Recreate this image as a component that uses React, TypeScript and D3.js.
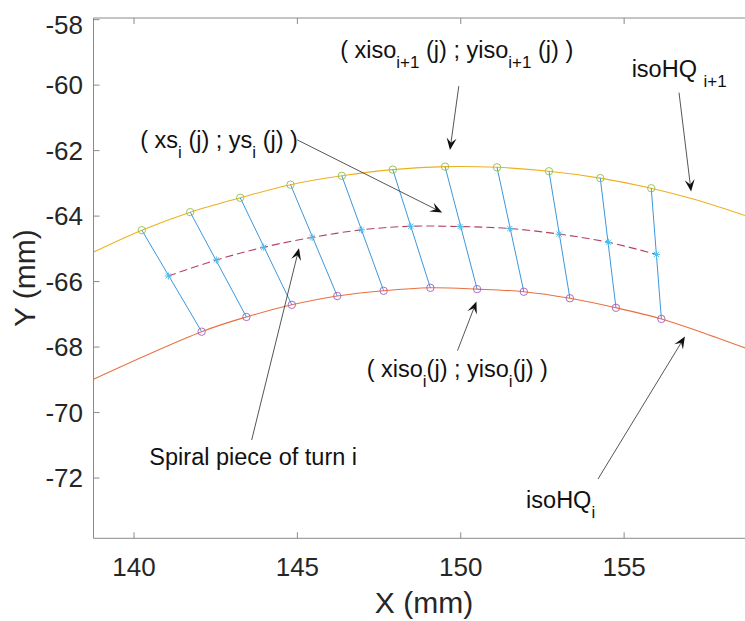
import { useEffect, useRef } from 'react';
import * as d3 from 'd3';

// points on isoHQ i+1 (green circles)
const xIsoNext = [140.24, 141.72, 143.25, 144.79, 146.36, 147.92, 149.52, 151.11, 152.7, 154.27, 155.83];
const yIsoNext = [-64.43, -63.88, -63.44, -63.04, -62.77, -62.58, -62.49, -62.51, -62.63, -62.84, -63.15];

// points on isoHQ i (purple circles)
const xIso = [142.07, 143.44, 144.83, 146.22, 147.64, 149.07, 150.5, 151.93, 153.34, 154.75, 156.14];
const yIso = [-67.53, -67.08, -66.71, -66.44, -66.28, -66.19, -66.23, -66.31, -66.51, -66.8, -67.14];

// spiral points (stars)
const xSpiral = [141.05, 142.52, 143.97, 145.45, 146.96, 148.47, 149.98, 151.5, 153.01, 154.52, 155.99];
const ySpiral = [-65.83, -65.34, -64.95, -64.65, -64.42, -64.31, -64.32, -64.38, -64.55, -64.8, -65.17];

// curve parts beyond the markers
const nextHeadX = [138.76];
const nextHeadY = [-65.1];
const nextTailX = [157.22, 158.99];
const nextTailY = [-63.51, -64.08];
const isoHeadX = [138.76];
const isoHeadY = [-68.98];
const isoTailX = [157.32, 158.99];
const isoTailY = [-67.53, -68.13];

const xTicks = [140, 145, 150, 155];
const yTicks = [-58, -60, -62, -64, -66, -68, -70, -72];

// annotations: text parts [text, isSubscript], text anchor, arrow start and tip (data units)
const notes = [
  { parts: [['( xiso', 0], ['i+1', 1], [' (j) ; yiso', 0], ['i+1', 1], [' (j) )', 0]], at: [146.31, -59.17], from: [149.94, -60.03], to: [149.67, -61.98] },
  { parts: [['isoHQ ', 0], ['i+1', 1]], at: [155.23, -59.74], from: [156.68, -60.23], to: [157.05, -63.25] },
  { parts: [['( xs', 0], ['i', 1], [' (j) ; ys', 0], ['i', 1], [' (j) )', 0]], at: [140.19, -61.92], from: [144.99, -61.67], to: [149.43, -63.89] },
  { parts: [['( xiso', 0], ['i', 1], ['(j) ; yiso', 0], ['i', 1], ['(j) )', 0]], at: [147.12, -68.91], from: [149.9, -68.11], to: [150.48, -66.61] },
  { parts: [['Spiral piece of turn i', 0]], at: [140.47, -71.6], from: [143.6, -70.84], to: [145.05, -64.98] },
  { parts: [['isoHQ', 0], ['i', 1]], at: [152.0, -72.91], from: [154.2, -72.03], to: [156.86, -67.68] },
];

const W = 745;
const H = 621;
const font = '"Liberation Sans", Arial, sans-serif';

const App = () => {
  const svgRef = useRef(null);

  useEffect(() => {
    const svg = d3.select(svgRef.current);
    svg.selectAll('*').remove();

    const left = 93.5, right = 754.5, top = 18, bottom = 538.3;
    const x = d3.scaleLinear().domain([138.76, 158.99]).range([left, right]);
    const y = d3.scaleLinear().domain([-73.84, -57.95]).range([bottom, top]);

    svg.append('rect').attr('width', W).attr('height', H).attr('fill', 'white');

    svg.append('clipPath').attr('id', 'plot-clip')
      .append('rect').attr('x', left).attr('y', top).attr('width', right - left).attr('height', bottom - top);

    const plot = svg.append('g').attr('clip-path', 'url(#plot-clip)');

    const zip = (xs, ys) => xs.map((v, i) => [v, ys[i]]);
    const line = d3.line().x((d) => x(d[0])).y((d) => y(d[1])).curve(d3.curveCatmullRom);

    const upper = zip([...nextHeadX, ...xIsoNext, ...nextTailX], [...nextHeadY, ...yIsoNext, ...nextTailY]);
    const lower = zip([...isoHeadX, ...xIso, ...isoTailX], [...isoHeadY, ...yIso, ...isoTailY]);

    plot.append('path').attr('d', line(upper)).attr('fill', 'none').attr('stroke', '#EDB120').attr('stroke-width', 1.1);
    plot.append('path').attr('d', line(lower)).attr('fill', 'none').attr('stroke', '#E8703F').attr('stroke-width', 1.1);

    plot.append('path').attr('d', line(zip(xSpiral, ySpiral))).attr('fill', 'none')
      .attr('stroke', '#B8405E').attr('stroke-width', 1.1).attr('stroke-dasharray', '8,4');

    // connecting segments
    plot.selectAll('line.seg').data(xIsoNext).enter().append('line')
      .attr('x1', (d) => x(d)).attr('y1', (d, i) => y(yIsoNext[i]))
      .attr('x2', (d, i) => x(xIso[i])).attr('y2', (d, i) => y(yIso[i]))
      .attr('stroke', '#3C97DC').attr('stroke-width', 1);

    plot.selectAll('circle.up').data(xIsoNext).enter().append('circle')
      .attr('cx', (d) => x(d)).attr('cy', (d, i) => y(yIsoNext[i])).attr('r', 3.7)
      .attr('fill', 'none').attr('stroke', '#8DBF4C').attr('stroke-width', 0.9);

    plot.selectAll('circle.lo').data(xIso).enter().append('circle')
      .attr('cx', (d) => x(d)).attr('cy', (d, i) => y(yIso[i])).attr('r', 3.7)
      .attr('fill', 'none').attr('stroke', '#A55BBE').attr('stroke-width', 0.9);

    const s = 3.6, t = 2.6;
    const star = `M${-s},0L${s},0M0,${-s}L0,${s}M${-t},${-t}L${t},${t}M${-t},${t}L${t},${-t}`;
    plot.selectAll('path.star').data(xSpiral).enter().append('path')
      .attr('d', star)
      .attr('transform', (d, i) => `translate(${x(d)},${y(ySpiral[i])})`)
      .attr('stroke', '#4DBEEE').attr('stroke-width', 1).attr('fill', 'none');

    // axes box and ticks
    const axisColor = '#8a8a8a';
    const frame = svg.append('g').attr('stroke', axisColor).attr('stroke-width', 1).attr('fill', 'none');
    frame.append('line').attr('x1', left).attr('x2', right).attr('y1', top).attr('y2', top);
    frame.append('line').attr('x1', left).attr('x2', right).attr('y1', bottom).attr('y2', bottom);
    frame.append('line').attr('x1', left).attr('x2', left).attr('y1', top).attr('y2', bottom);

    xTicks.forEach((v) => {
      frame.append('line').attr('x1', x(v)).attr('x2', x(v)).attr('y1', bottom).attr('y2', bottom - 6);
      frame.append('line').attr('x1', x(v)).attr('x2', x(v)).attr('y1', top).attr('y2', top + 6);
    });
    yTicks.forEach((v) => {
      frame.append('line').attr('x1', left).attr('x2', left + 6).attr('y1', y(v)).attr('y2', y(v));
    });

    svg.append('g').selectAll('text').data(xTicks).enter().append('text')
      .attr('x', (d) => x(d)).attr('y', 576)
      .attr('text-anchor', 'middle').attr('font-family', font).attr('font-size', 26).attr('fill', '#262626')
      .text((d) => d);

    svg.append('g').selectAll('text').data(yTicks).enter().append('text')
      .attr('x', 83).attr('y', (d) => Math.max(y(d), 25)).attr('dy', '0.35em')
      .attr('text-anchor', 'end').attr('font-family', font).attr('font-size', 26).attr('fill', '#262626')
      .text((d) => d);

    svg.append('text').attr('x', (left + right) / 2).attr('y', 613)
      .attr('text-anchor', 'middle').attr('font-family', font).attr('font-size', 30).attr('fill', '#262626')
      .text('X (mm)');

    svg.append('text').attr('transform', `translate(35,${(top + bottom) / 2}) rotate(-90)`)
      .attr('text-anchor', 'middle').attr('font-family', font).attr('font-size', 30).attr('fill', '#262626')
      .text('Y (mm)');

    // annotations
    const ann = svg.append('g');
    notes.forEach((n) => {
      const txt = ann.append('text').attr('x', x(n.at[0])).attr('y', y(n.at[1]))
        .attr('font-family', font).attr('font-size', 23.5).attr('fill', '#111')
        .style('white-space', 'pre');
      let low = false;
      n.parts.forEach(([str, sub]) => {
        const ts = txt.append('tspan').text(str);
        if (sub && !low) { ts.attr('dy', 10).attr('font-size', 17); low = true; }
        else if (sub) ts.attr('font-size', 17);
        else if (low) { ts.attr('dy', -10); low = false; }
      });

      const x1 = x(n.from[0]), y1 = y(n.from[1]), x2 = x(n.to[0]), y2 = y(n.to[1]);
      const ang = Math.atan2(y2 - y1, x2 - x1);
      const L = 12, hw = 5;
      ann.append('line').attr('x1', x1).attr('y1', y1)
        .attr('x2', x2 - Math.cos(ang) * L * 0.6).attr('y2', y2 - Math.sin(ang) * L * 0.6)
        .attr('stroke', '#2a2a2a').attr('stroke-width', 0.8);
      ann.append('path')
        .attr('d', `M0,0L${-L},${-hw}L${-L * 0.6},0L${-L},${hw}Z`)
        .attr('transform', `translate(${x2},${y2}) rotate(${(ang * 180) / Math.PI})`)
        .attr('fill', '#111');
    });
  }, []);

  return (
    <svg ref={svgRef} width={W} height={H} style={{ position: 'absolute', left: 0, top: 0 }}></svg>
  );
};

export default App;
